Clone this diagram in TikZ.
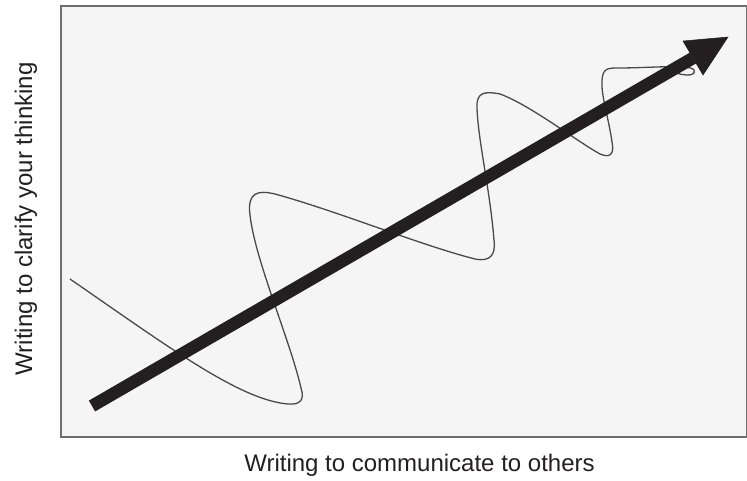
\documentclass[tikz,border=0pt]{standalone}
\usepackage{fontspec}
\setmainfont{Liberation Sans}
\usetikzlibrary{calc}
\definecolor{boxfill}{HTML}{F5F5F5}
\definecolor{boxline}{HTML}{6E6E6E}
\definecolor{ink}{HTML}{231F20}
\definecolor{wave}{HTML}{4A4A4A}
\begin{document}
\begin{tikzpicture}[x=1pt,y=-1pt,
  frame/.style={draw=boxline, line width=1.8pt, fill=boxfill, inner sep=0pt},
  wavy/.style={draw=wave, line width=1.3pt},
  shaft/.style={draw=ink, line width=12.5pt},
  head/.style={fill=ink, draw=ink, line width=0.5pt, line join=miter},
  axislabel/.style={font=\fontsize{24}{28}\selectfont, text=ink, inner sep=0pt}]
\useasboundingbox (0,0) rectangle (747,480);
\node[frame, minimum width=686pt, minimum height=431pt, anchor=north west] (box) at (60,5) {};
% wavy line
\draw[wavy] (70,279) .. controls (170,348) and (240,400) .. (288,404)
 .. controls (300,405) and (305,400) .. (301,388)
 .. controls (290,340) and (255,260) .. (250,215)
 .. controls (247,192) and (258,190) .. (275,194)
 .. controls (340,212) and (420,245) .. (475,259)
 .. controls (490,262) and (496,255) .. (494,240)
 .. controls (490,190) and (478,140) .. (477,108)
 .. controls (476,92) and (485,91) .. (500,94)
 .. controls (530,105) and (575,140) .. (600,154)
 .. controls (612,159) and (614,152) .. (612,142)
 .. controls (609,120) and (601,95) .. (602,82)
 .. controls (602,68) and (608,68) .. (618,68)
 .. controls (650,68) and (690,64) .. (694,70)
 .. controls (696,76) and (686,76) .. (676,73);
% big arrow
\coordinate (tail) at (92,406);
\coordinate (tip) at (728,37);
\coordinate (headL) at (683,41);
\coordinate (headR) at (703,75);
\draw[shaft] (tail) -- ($(headL)!0.5!(headR)$);
\filldraw[head] (tip) -- (headL) -- (headR) -- cycle;
% labels
\node[axislabel, anchor=base] (xlab) at (419.5,471) {Writing to communicate to others};
\node[axislabel, rotate=90, anchor=base] (ylab) at (32,219) {Writing to clarify your thinking};
\end{tikzpicture}
\end{document}
